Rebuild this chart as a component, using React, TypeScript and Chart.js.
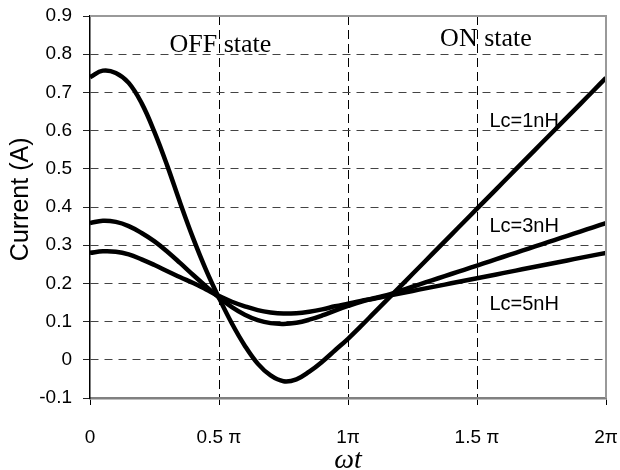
import React, { useEffect, useRef } from 'react';
import { Chart, registerables } from 'chart.js';

Chart.register(...registerables);

// x positions in units of π
const xValues = [
  0, 0.05, 0.1, 0.15, 0.2, 0.25, 0.3, 0.35, 0.4, 0.45,
  0.5, 0.55, 0.6, 0.65, 0.7, 0.75, 0.8, 0.85, 0.9, 0.95,
  1.0, 1.05, 1.1, 1.15, 1.2, 1.25, 1.3, 1.35, 1.4, 1.45,
  1.5, 1.55, 1.6, 1.65, 1.7, 1.75, 1.8, 1.85, 1.9, 1.95, 2.0,
];

const lc1nH = [
  0.740, 0.757, 0.751, 0.725, 0.672, 0.596, 0.507, 0.410, 0.318, 0.235,
  0.162, 0.095, 0.037, -0.010, -0.041, -0.056, -0.051, -0.031, -0.005, 0.025,
  0.055, 0.088, 0.122, 0.156, 0.1902, 0.2245, 0.2587, 0.2929, 0.3272, 0.3614,
  0.3956, 0.4299, 0.4641, 0.4983, 0.5326, 0.5668, 0.6010, 0.6353, 0.6695, 0.7037, 0.738,
];

const lc3nH = [
  0.358, 0.364, 0.361, 0.350, 0.332, 0.310, 0.283, 0.253, 0.222, 0.192,
  0.163, 0.138, 0.118, 0.104, 0.096, 0.094, 0.097, 0.105, 0.116, 0.129,
  0.141, 0.152, 0.161, 0.169, 0.1801, 0.1912, 0.2024, 0.2135, 0.2246, 0.2357,
  0.2468, 0.2579, 0.2691, 0.2802, 0.2913, 0.3024, 0.3135, 0.3246, 0.3358, 0.3469, 0.358,
];

const lc5nH = [
  0.280, 0.284, 0.283, 0.276, 0.263, 0.248, 0.232, 0.216, 0.201, 0.184,
  0.167, 0.152, 0.140, 0.130, 0.124, 0.121, 0.122, 0.126, 0.132, 0.140,
  0.147, 0.154, 0.160, 0.167, 0.1736, 0.1803, 0.1869, 0.1936, 0.2002, 0.2069,
  0.2135, 0.2202, 0.2268, 0.2335, 0.2402, 0.2468, 0.2535, 0.2601, 0.2668, 0.2734, 0.280,
];

const seriesNames = ['Lc=1nH', 'Lc=3nH', 'Lc=5nH'];
const xTickValues = [0, 0.5, 1, 1.5, 2];
const xTickLabels = ['0', '0.5 π', '1π', '1.5 π', '2π'];
const yMin = -0.1;
const yMax = 0.9;
const yStep = 0.1;
const stateNames = ['OFF state', 'ON state'];
const yTitle = 'Current (A)';

const SANS = '"Liberation Sans", Arial, sans-serif';
const SERIF = '"Liberation Serif", "Times New Roman", serif';

const annotationPlugin = {
  id: 'annotations',
  afterDraw(chart: any) {
    const { ctx, chartArea, scales } = chart;
    const xs = scales.x;
    const ys = scales.y;
    ctx.save();
    // top and right frame
    ctx.strokeStyle = '#999999';
    ctx.lineWidth = 2;
    ctx.beginPath();
    ctx.moveTo(chartArea.left, chartArea.top);
    ctx.lineTo(chartArea.right, chartArea.top);
    ctx.lineTo(chartArea.right, chartArea.bottom);
    ctx.stroke();

    ctx.fillStyle = '#000';
    ctx.textBaseline = 'alphabetic';
    ctx.textAlign = 'left';
    ctx.font = `26px ${SERIF}`;
    ctx.fillText(stateNames[0], xs.getPixelForValue(0.308), ys.getPixelForValue(0.806));
    ctx.fillText(stateNames[1], xs.getPixelForValue(1.357), ys.getPixelForValue(0.822));

    ctx.font = `20px ${SANS}`;
    const lx = xs.getPixelForValue(1.548);
    ctx.fillText(seriesNames[0], lx, ys.getPixelForValue(0.609));
    ctx.fillText(seriesNames[1], lx, ys.getPixelForValue(0.335));
    ctx.fillText(seriesNames[2], lx, ys.getPixelForValue(0.130));

    // y axis title
    ctx.save();
    ctx.translate(21, ys.getPixelForValue(0.42));
    ctx.rotate(-Math.PI / 2);
    ctx.textAlign = 'center';
    ctx.textBaseline = 'middle';
    ctx.font = `25px ${SANS}`;
    ctx.fillText(yTitle, 0, 0);
    ctx.restore();

    ctx.restore();
  },
};

export default function App() {
  const canvasRef = useRef<HTMLCanvasElement | null>(null);

  useEffect(() => {
    document.body.style.margin = '0';
    const canvas = canvasRef.current;
    if (!canvas) return;

    const mk = (vals: number[], name: string) => ({
      label: name,
      data: xValues.map((x, i) => ({ x, y: vals[i] })),
      borderColor: '#000000',
      borderWidth: 4.5,
      pointRadius: 0,
      fill: false,
      tension: 0.4,
    });

    const isEdgeX = (v: number) => Math.abs(v - 0) < 1e-6 || Math.abs(v - 2) < 1e-6;
    const isEdgeY = (v: number) => Math.abs(v - yMin) < 1e-6 || Math.abs(v - yMax) < 1e-6;

    const chart = new Chart(canvas, {
      type: 'line',
      data: {
        datasets: [mk(lc1nH, seriesNames[0]), mk(lc3nH, seriesNames[1]), mk(lc5nH, seriesNames[2])],
      },
      options: {
        animation: false,
        responsive: false,
        maintainAspectRatio: false,
        layout: { padding: { top: 16, right: 0, left: 0, bottom: 0 }, autoPadding: false },
        plugins: {
          legend: { display: false },
          tooltip: { enabled: false },
        },
        scales: {
          x: {
            type: 'linear',
            min: 0,
            max: 2,
            afterBuildTicks: (scale: any) => {
              scale.ticks = xTickValues.map((v) => ({ value: v }));
            },
            afterFit: (scale: any) => {
              scale.height = 72;
              scale.paddingLeft = 0;
              scale.paddingRight = 14;
            },
            ticks: {
              autoSkip: false,
              maxRotation: 0,
              padding: 21,
              color: '#000',
              font: { family: SANS, size: 19 },
              callback: (v: any) => {
                const i = xTickValues.findIndex((t) => Math.abs(t - Number(v)) < 1e-6);
                return i >= 0 ? xTickLabels[i] : '';
              },
            },
            grid: {
              color: (c: any) => (c.tick && isEdgeX(c.tick.value) ? 'rgba(0,0,0,0)' : '#000000'),
              lineWidth: 1,
              tickColor: '#000000',
              tickLength: 7,
              drawTicks: true,
            },
            border: { display: true, color: '#808080', width: 2.5, dash: [9, 5] },
            title: {
              display: true,
              text: 'ωt',
              color: '#000',
              font: { family: SERIF, size: 28, style: 'italic', lineHeight: 1 },
              padding: { top: 0, bottom: -5 },
            },
          },
          y: {
            type: 'linear',
            min: yMin,
            max: yMax,
            afterFit: (scale: any) => {
              scale.width = 90;
              scale.paddingTop = 0;
              scale.paddingBottom = 0;
            },
            ticks: {
              stepSize: yStep,
              padding: 11,
              color: '#000',
              font: { family: SANS, size: 19 },
              callback: (v: any) => String(Number(Number(v).toFixed(1))),
            },
            grid: {
              color: (c: any) => (c.tick && isEdgeY(c.tick.value) ? 'rgba(0,0,0,0)' : '#444444'),
              lineWidth: 1,
              tickColor: '#222222',
              tickLength: 7,
            },
            border: { display: true, color: '#000000', width: 1.5, dash: [8, 6] },
            title: { display: false },
          },
        },
      },
      plugins: [annotationPlugin],
    });

    return () => {
      chart.destroy();
    };
  }, []);

  return (
    <div style={{ width: 620, height: 470, background: '#fff' }}>
      <canvas ref={canvasRef} width={620} height={470} style={{ display: 'block' }} />
    </div>
  );
}
